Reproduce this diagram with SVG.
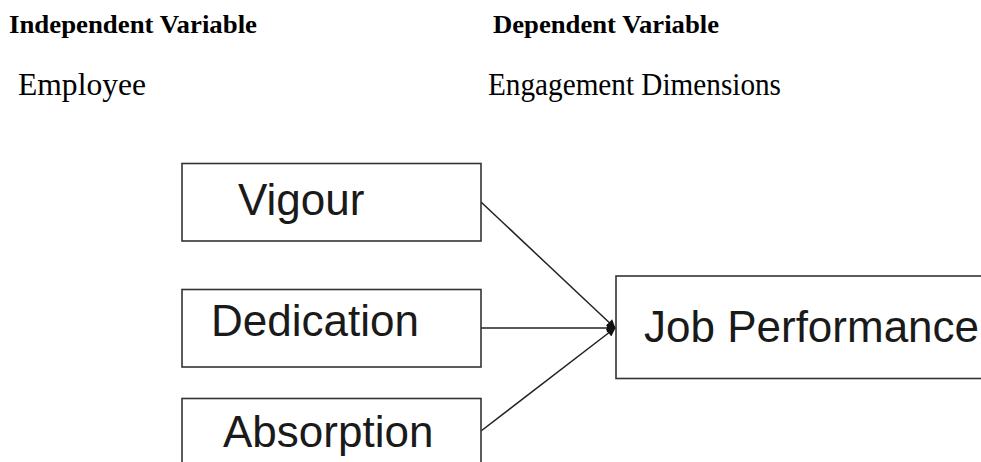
<svg xmlns="http://www.w3.org/2000/svg" width="981" height="462" viewBox="0 0 981 462">
  <style>
    .head { font-family: "Liberation Serif", "Times New Roman", serif; font-weight: bold; font-size: 26px; fill: #000; }
    .sub { font-family: "Liberation Serif", "Times New Roman", serif; font-size: 31px; fill: #000; }
    .box { fill: #fff; stroke: #333; stroke-width: 1.6; }
    .label { font-family: "Liberation Sans", Arial, sans-serif; font-size: 44px; fill: #1a1a1a; }
    .link { stroke: #222; stroke-width: 1.5; fill: none; marker-end: url(#arrow); }
  </style>
  <defs>
    <marker id="arrow" viewBox="0 0 10 10" refX="9" refY="5" markerWidth="10" markerHeight="9" markerUnits="userSpaceOnUse" orient="auto">
      <path d="M0,0 L10,5 L0,10 z" fill="#111"/>
    </marker>
  </defs>
  <rect width="981" height="462" fill="#fff"/>

  <!-- column headings -->
  <text class="head" x="9" y="33" textLength="248" lengthAdjust="spacingAndGlyphs">Independent Variable</text>
  <text class="head" x="493" y="33" textLength="226" lengthAdjust="spacingAndGlyphs">Dependent Variable</text>
  <text class="sub" x="18" y="95" textLength="128" lengthAdjust="spacingAndGlyphs">Employee</text>
  <text class="sub" x="488" y="95" textLength="293" lengthAdjust="spacingAndGlyphs">Engagement Dimensions</text>

  <g id="connectors">
    <line class="link" x1="481" y1="202" x2="615" y2="328"/>
    <line class="link" x1="481" y1="328" x2="615" y2="328"/>
    <line class="link" x1="481" y1="431" x2="615" y2="328"/>
  </g>

  <g id="vigour">
    <rect class="box" x="182" y="163.5" width="299" height="77.5"/>
    <text class="label" x="238" y="215">Vigour</text>
  </g>
  <g id="dedication">
    <rect class="box" x="182" y="289.5" width="299" height="77.5"/>
    <text class="label" x="211" y="336">Dedication</text>
  </g>
  <g id="absorption">
    <rect class="box" x="182" y="398.5" width="299" height="80"/>
    <text class="label" x="223" y="447">Absorption</text>
  </g>
  <g id="job-performance">
    <rect class="box" x="616" y="276" width="400" height="102.5"/>
    <text class="label" x="644" y="342">Job Performance</text>
  </g>
</svg>
